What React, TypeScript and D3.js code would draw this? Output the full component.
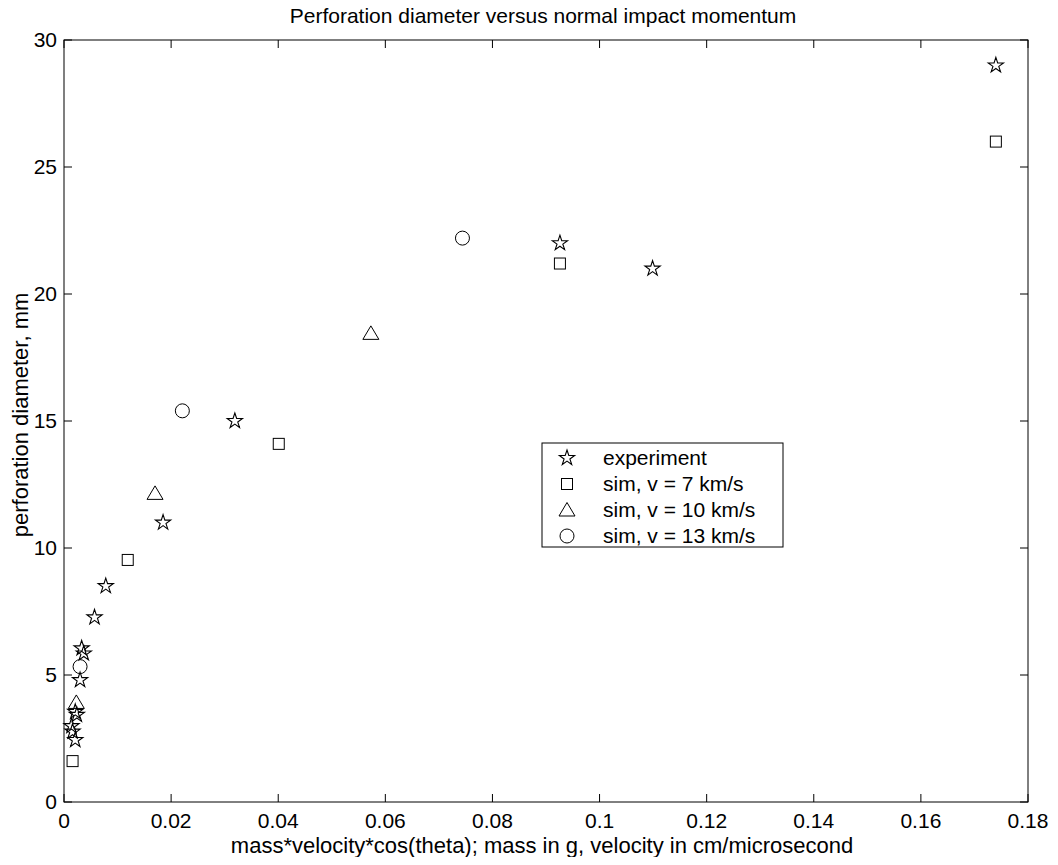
import React, { useEffect, useRef } from 'react';
import * as d3 from 'd3';

// experiment points (momentum, diameter)
const expX = [0.174, 0.0926, 0.1099, 0.0319, 0.0185, 0.0078, 0.0057, 0.0033, 0.0037, 0.0030, 0.0021, 0.0024, 0.0014, 0.0016, 0.0021];
const expY = [29.0, 22.0, 21.0, 15.0, 11.0, 8.5, 7.27, 6.05, 5.85, 4.8, 3.55, 3.43, 2.99, 2.77, 2.44];

// sim, v = 7 km/s
const sim7X = [0.174, 0.0926, 0.0401, 0.0119, 0.0016];
const sim7Y = [26.0, 21.2, 14.1, 9.53, 1.61];

// sim, v = 10 km/s
const sim10X = [0.0573, 0.0170, 0.0023];
const sim10Y = [18.45, 12.15, 3.92];

// sim, v = 13 km/s
const sim13X = [0.0744, 0.0221, 0.0030];
const sim13Y = [22.2, 15.4, 5.33];

const xTicks = [0, 0.02, 0.04, 0.06, 0.08, 0.1, 0.12, 0.14, 0.16, 0.18];
const yTicks = [0, 5, 10, 15, 20, 25, 30];
const legendLabels = ['experiment', 'sim, v = 7 km/s', 'sim, v = 10 km/s', 'sim, v = 13 km/s'];

const FONT = 'Liberation Sans, Arial, Helvetica, sans-serif';
const FS = '21px';

// draws a marker of kind k centred at (0,0)
function drawMarker(g: any, k: string) {
  if (k === 'star') {
    g.append('path')
      .attr('d', d3.symbol().type(d3.symbolStar).size(72)())
      .attr('fill', 'none').attr('stroke', '#000').attr('stroke-width', 1.1);
  } else if (k === 'square') {
    g.append('rect').attr('x', -5.5).attr('y', -5.5).attr('width', 11).attr('height', 11)
      .attr('fill', 'none').attr('stroke', '#000').attr('stroke-width', 1);
  } else if (k === 'triangle') {
    g.append('path').attr('d', 'M0,-7.5L8,6L-8,6Z')
      .attr('fill', 'none').attr('stroke', '#000').attr('stroke-width', 1);
  } else {
    g.append('circle').attr('r', 7)
      .attr('fill', 'none').attr('stroke', '#000').attr('stroke-width', 1);
  }
}

export default function App() {
  const ref = useRef<SVGSVGElement>(null);

  useEffect(() => {
    const svg = d3.select(ref.current);
    svg.selectAll('*').remove();

    const margin = { top: 40, right: 30, bottom: 63, left: 64 };
    const W = 1058, H = 865;
    const width = W - margin.left - margin.right;
    const height = H - margin.top - margin.bottom;

    const x = d3.scaleLinear().domain([0, 0.18]).range([0, width]);
    const y = d3.scaleLinear().domain([0, 30]).range([height, 0]);

    svg.append('rect').attr('width', W).attr('height', H).attr('fill', '#fff');

    const g = svg.append('g').attr('transform', `translate(${margin.left},${margin.top})`);

    // box
    g.append('rect').attr('width', width).attr('height', height)
      .attr('fill', 'none').attr('stroke', '#000').attr('stroke-width', 1);

    // ticks inside, on all four sides
    const tl = 8;
    xTicks.forEach(t => {
      g.append('line').attr('x1', x(t)).attr('x2', x(t)).attr('y1', height).attr('y2', height - tl).attr('stroke', '#000');
      g.append('line').attr('x1', x(t)).attr('x2', x(t)).attr('y1', 0).attr('y2', tl).attr('stroke', '#000');
      g.append('text').attr('x', x(t)).attr('y', height + 26).attr('text-anchor', 'middle')
        .style('font-family', FONT).style('font-size', FS).text(d3.format('~g')(t));
    });
    yTicks.forEach(t => {
      g.append('line').attr('x1', 0).attr('x2', tl).attr('y1', y(t)).attr('y2', y(t)).attr('stroke', '#000');
      g.append('line').attr('x1', width).attr('x2', width - tl).attr('y1', y(t)).attr('y2', y(t)).attr('stroke', '#000');
      g.append('text').attr('x', -7).attr('y', y(t)).attr('dy', '0.35em').attr('text-anchor', 'end')
        .style('font-family', FONT).style('font-size', FS).text(t);
    });

    // title and labels
    svg.append('text').attr('x', margin.left + width / 2 - 3).attr('y', 23).attr('text-anchor', 'middle')
      .style('font-family', FONT).style('font-size', FS).text('Perforation diameter versus normal impact momentum');
    svg.append('text').attr('x', margin.left + width / 2 - 4).attr('y', 853).attr('text-anchor', 'middle')
      .style('font-family', FONT).style('font-size', '22px').text('mass*velocity*cos(theta); mass in g, velocity in cm/microsecond');
    svg.append('text').attr('transform', `translate(28,${margin.top + height / 2 - 6}) rotate(-90)`).attr('text-anchor', 'middle')
      .style('font-family', FONT).style('font-size', '22px').text('perforation diameter, mm');

    const series = [
      { xs: expX, ys: expY, kind: 'star' },
      { xs: sim7X, ys: sim7Y, kind: 'square' },
      { xs: sim10X, ys: sim10Y, kind: 'triangle' },
      { xs: sim13X, ys: sim13Y, kind: 'circle' },
    ];

    series.forEach(s => {
      s.xs.forEach((v, i) => {
        const m = g.append('g').attr('transform', `translate(${x(v)},${y(s.ys[i])})`);
        drawMarker(m, s.kind);
      });
    });

    // legend
    const lg = svg.append('g').attr('transform', 'translate(542,443)');
    lg.append('rect').attr('width', 241).attr('height', 104)
      .attr('fill', '#fff').attr('stroke', '#000').attr('stroke-width', 1);
    legendLabels.forEach((lab, i) => {
      const yy = 15 + i * 26;
      const m = lg.append('g').attr('transform', `translate(25,${yy})`);
      drawMarker(m, series[i].kind);
      lg.append('text').attr('x', 61).attr('y', yy).attr('dy', '0.35em')
        .style('font-family', FONT).style('font-size', FS).text(lab);
    });
  }, []);

  return <svg ref={ref} width={1058} height={865} style={{ display: 'block', margin: -8 }} />;
}
